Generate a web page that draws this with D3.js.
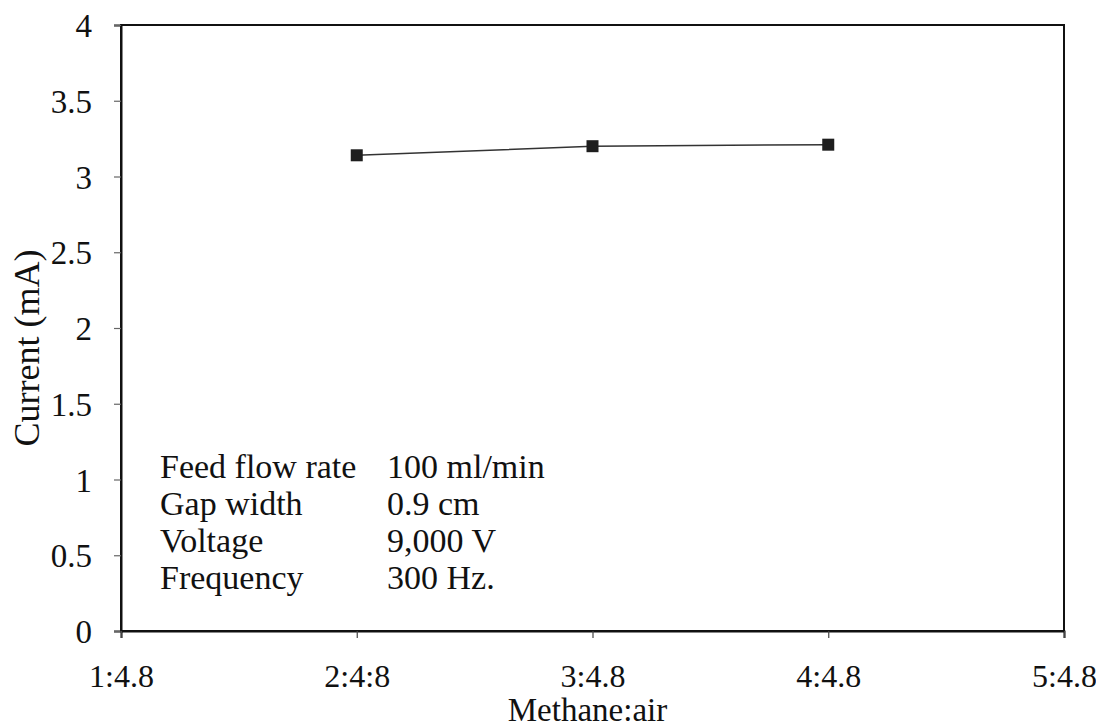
<!DOCTYPE html>
<html>
<head>
<meta charset="utf-8">
<script src="https://cdn.jsdelivr.net/npm/d3@7"></script>
<style>
  html, body { margin: 0; padding: 0; background: #fff; }
  svg { display: block; }
  svg text { font-family: "Liberation Serif", "Times New Roman", Times, "DejaVu Serif", serif !important; fill: #111; }
</style>
</head>
<body>
<svg id="chart" width="1096" height="728"></svg>
<script>
// Methane:air ratio categories placed on a linear index axis
const ratioLabels = ["1:4.8", "2:4:8", "3:4.8", "4:4.8", "5:4.8"];
const ratioIndex = [1, 2, 3, 4, 5];

// Measured current (mA) at each tested ratio
const pointIndex = [2, 3, 4];
const currentValues = [3.14, 3.20, 3.21];

// Y axis ticks
const yTicks = [0, 0.5, 1, 1.5, 2, 2.5, 3, 3.5, 4];

// Operating conditions
const condNames = ["Feed flow rate", "Gap width", "Voltage", "Frequency"];
const condValues = ["100 ml/min", "0.9 cm", "9,000 V", "300 Hz."];

const serif = "'Liberation Serif', 'Times New Roman', Times, 'DejaVu Serif', serif";
const margin = { left: 121, right: 1096 - 1064, top: 25, bottom: 728 - 631 };
const W = 1096, H = 728;

const svg = d3.select("#chart").attr("font-family", serif);

const x = d3.scaleLinear().domain([1, 5]).range([margin.left, W - margin.right]);
const y = d3.scaleLinear().domain([0, 4]).range([H - margin.bottom, margin.top]);

// Plot frame
svg.append("rect")
  .attr("x", x(1)).attr("y", y(4))
  .attr("width", x(5) - x(1)).attr("height", y(0) - y(4))
  .attr("fill", "none").attr("stroke", "#111").attr("stroke-width", 2);

// Y axis
const yAxis = d3.axisLeft(y).tickValues(yTicks).tickSize(7).tickFormat(d3.format("~g"));
const gy = svg.append("g").attr("transform", `translate(${x(1)},0)`).call(yAxis)
  .attr("font-family", serif).attr("font-size", 33);
gy.select(".domain").attr("stroke", "#111").attr("stroke-width", 2);
gy.selectAll(".tick line").attr("stroke", "#666").attr("stroke-width", 1.2);
gy.selectAll(".tick text")
  .attr("x", -29).attr("dy", "0.35em")
  .attr("fill", "#111");

// X axis
const xAxis = d3.axisBottom(x).tickValues(ratioIndex).tickSize(7)
  .tickFormat((d, i) => ratioLabels[i]);
const gx = svg.append("g").attr("transform", `translate(0,${y(0)})`).call(xAxis)
  .attr("font-family", serif).attr("font-size", 32);
gx.select(".domain").attr("stroke", "#111").attr("stroke-width", 2);
gx.selectAll(".tick line").attr("stroke", "#444").attr("stroke-width", 1.2);
gx.selectAll(".tick text")
  .attr("y", 56).attr("dy", 0)
  .attr("fill", "#111");

// Axis titles
svg.append("text")
  .attr("x", (x(1) + x(5)) / 2 - 5).attr("y", 721)
  .attr("text-anchor", "middle")
  .attr("font-size", 33)
  .text("Methane:air");

svg.append("text")
  .attr("transform", `translate(39,348) rotate(-90)`)
  .attr("text-anchor", "middle")
  .attr("font-size", 36)
  .text("Current (mA)");

// Data line and markers
const pts = pointIndex.map((d, i) => ({ k: d, v: currentValues[i] }));
svg.append("path")
  .datum(pts)
  .attr("fill", "none").attr("stroke", "#333").attr("stroke-width", 1.5)
  .attr("d", d3.line().x(d => x(d.k)).y(d => y(d.v)));

const ms = 12;
svg.selectAll("rect.mk").data(pts).enter().append("rect")
  .attr("class", "mk")
  .attr("x", d => x(d.k) - ms / 2).attr("y", d => y(d.v) - ms / 2)
  .attr("width", ms).attr("height", ms)
  .attr("fill", "#1e1e1e");

// Operating-condition notes
const notes = svg.append("g").attr("font-size", 34);
condNames.forEach((name, i) => {
  const by = 478 + i * 37;
  notes.append("text").attr("x", 160).attr("y", by).text(name);
  notes.append("text").attr("x", 387).attr("y", by).text(condValues[i]);
});
</script>
</body>
</html>
